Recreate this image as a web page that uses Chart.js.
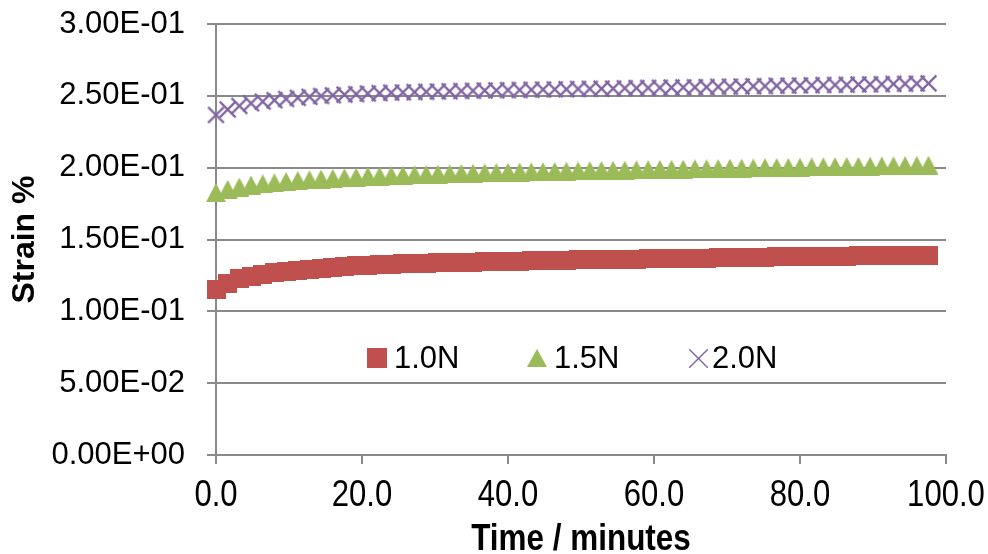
<!DOCTYPE html>
<html>
<head>
<meta charset="utf-8">
<script src="https://cdn.jsdelivr.net/npm/chart.js@4.4.1/dist/chart.umd.min.js"></script>
<style>
  html, body { margin: 0; padding: 0; background: #ffffff; }
  #wrap { width: 988px; height: 554px; position: relative; }
</style>
</head>
<body>
<div id="wrap"><canvas id="c" width="988" height="554"></canvas></div>
<script>
// Time of each reading (minutes)
const timeMin = [0.0, 1.6, 3.2, 4.8, 6.4, 8.0, 9.6, 11.2, 12.8, 14.4,
  16.0, 17.6, 19.2, 20.8, 22.4, 24.0, 25.6, 27.2, 28.8, 30.4,
  32.0, 33.6, 35.2, 36.8, 38.4, 40.0, 41.6, 43.2, 44.8, 46.4,
  48.0, 49.6, 51.2, 52.8, 54.4, 56.0, 57.6, 59.2, 60.8, 62.4,
  64.0, 65.6, 67.2, 68.8, 70.4, 72.0, 73.6, 75.2, 76.8, 78.4,
  80.0, 81.6, 83.2, 84.8, 86.4, 88.0, 89.6, 91.2, 92.8, 94.4,
  96.0, 97.6];

// Strain under 1.0 N load
const strain10N = [0.1155, 0.1196, 0.1226, 0.1245, 0.1259, 0.1268, 0.1277, 0.1287, 0.1294, 0.1298,
  0.1305, 0.1310, 0.1317, 0.1322, 0.1324, 0.1327, 0.1330, 0.1333, 0.1335, 0.1337,
  0.1339, 0.1341, 0.1343, 0.1345, 0.1347, 0.1348, 0.1350, 0.1352, 0.1353, 0.1355,
  0.1356, 0.1358, 0.1359, 0.1360, 0.1362, 0.1363, 0.1364, 0.1365, 0.1366, 0.1368,
  0.1369, 0.1370, 0.1371, 0.1372, 0.1373, 0.1374, 0.1376, 0.1378, 0.1380, 0.1381,
  0.1382, 0.1382, 0.1383, 0.1384, 0.1385, 0.1386, 0.1387, 0.1388, 0.1388, 0.1389,
  0.1390, 0.1391];

// Strain under 1.5 N load
const strain15N = [0.1826, 0.1849, 0.1865, 0.1879, 0.1888, 0.1895, 0.1904, 0.1911, 0.1916, 0.1921,
  0.1925, 0.1930, 0.1934, 0.1939, 0.1941, 0.1944, 0.1947, 0.1950, 0.1952, 0.1955,
  0.1957, 0.1959, 0.1961, 0.1963, 0.1965, 0.1967, 0.1969, 0.1971, 0.1972, 0.1974,
  0.1976, 0.1977, 0.1979, 0.1980, 0.1982, 0.1983, 0.1985, 0.1986, 0.1988, 0.1989,
  0.1990, 0.1992, 0.1993, 0.1994, 0.1996, 0.1997, 0.1998, 0.2000, 0.2001, 0.2002,
  0.2003, 0.2005, 0.2006, 0.2007, 0.2008, 0.2009, 0.2010, 0.2012, 0.2013, 0.2014,
  0.2015, 0.2017];

// Strain under 2.0 N load
const strain20N = [0.2367, 0.2405, 0.2430, 0.2448, 0.2460, 0.2470, 0.2478, 0.2486, 0.2493, 0.2499,
  0.2504, 0.2508, 0.2512, 0.2516, 0.2519, 0.2522, 0.2524, 0.2526, 0.2528, 0.2530,
  0.2532, 0.2534, 0.2535, 0.2537, 0.2538, 0.2540, 0.2541, 0.2542, 0.2544, 0.2545,
  0.2546, 0.2548, 0.2549, 0.2550, 0.2551, 0.2553, 0.2554, 0.2555, 0.2556, 0.2558,
  0.2559, 0.2560, 0.2561, 0.2563, 0.2564, 0.2565, 0.2567, 0.2568, 0.2570, 0.2571,
  0.2572, 0.2574, 0.2575, 0.2576, 0.2577, 0.2579, 0.2580, 0.2581, 0.2583, 0.2584,
  0.2585, 0.2587];

const seriesNames = ['1.0N', '1.5N', '2.0N'];
const yTicks = [0, 0.05, 0.10, 0.15, 0.20, 0.25, 0.30];
const xTicks = [0, 20, 40, 60, 80, 100];
const xTitle = 'Time / minutes';
const yTitle = 'Strain %';

const COLORS = { red: '#C0504D', green: '#9BBB59', purple: '#8064A2' };
const GRID = '#8a8a8a';
const SANS = '"Liberation Sans", Arial, sans-serif';

// Marker sprites, centred on their bounding box
function makeSquare(size, color) {
  const c = document.createElement('canvas');
  c.width = size; c.height = size;
  const g = c.getContext('2d');
  g.fillStyle = color;
  g.fillRect(0, 0, size, size);
  return c;
}
function makeTriangle(w, h, color) {
  const c = document.createElement('canvas');
  c.width = w; c.height = h;
  const g = c.getContext('2d');
  g.fillStyle = color;
  g.beginPath();
  g.moveTo(w / 2, 0);
  g.lineTo(w, h);
  g.lineTo(0, h);
  g.closePath();
  g.fill();
  return c;
}
function makeCross(size, color, lw) {
  const c = document.createElement('canvas');
  c.width = size; c.height = size;
  const g = c.getContext('2d');
  g.strokeStyle = color;
  g.lineWidth = lw;
  const p = lw / 2 + 0.5;
  g.beginPath();
  g.moveTo(p, p); g.lineTo(size - p, size - p);
  g.moveTo(size - p, p); g.lineTo(p, size - p);
  g.stroke();
  return c;
}

const markers = [
  makeSquare(19, COLORS.red),
  makeTriangle(20, 19, COLORS.green),
  makeCross(19, COLORS.purple, 2.2)
];
const legendMarkers = [
  makeSquare(20, COLORS.red),
  makeTriangle(20, 18, COLORS.green),
  makeCross(21, COLORS.purple, 1.4)
];

function toPoints(xs, ys) {
  return xs.map((x, i) => ({ x: x, y: ys[i] }));
}

function sciLabel(v) {
  if (Math.abs(v) < 1e-12) return '0.00E+00';
  const parts = v.toExponential(2).split('e');
  const exp = parseInt(parts[1], 10);
  const sign = exp < 0 ? '-' : '+';
  const digits = String(Math.abs(exp)).padStart(2, '0');
  return parts[0] + 'E' + sign + digits;
}

// Narrow-set horizontal axis labels and title, placed from the x scale
const narrowXAxisText = {
  id: 'narrowXAxisText',
  afterDraw(chart) {
    const ctx = chart.ctx;
    const xs = chart.scales.x;
    const area = chart.chartArea;
    ctx.save();
    ctx.fillStyle = '#000000';
    ctx.textAlign = 'center';
    ctx.textBaseline = 'middle';
    ctx.font = '37px ' + SANS;
    xTicks.forEach(v => {
      const px = xs.getPixelForValue(v);
      ctx.save();
      ctx.translate(px, 496);
      ctx.scale(0.84, 1);
      ctx.fillText(v.toFixed(1), 0, 0);
      ctx.restore();
    });
    ctx.font = 'bold 37px ' + SANS;
    ctx.save();
    ctx.translate((area.left + area.right) / 2, 540);
    ctx.scale(0.85, 1);
    ctx.fillText(xTitle, 0, 0);
    ctx.restore();
    ctx.restore();
  }
};

// Legend drawn inside the plot area
const innerLegend = {
  id: 'innerLegend',
  afterDatasetsDraw(chart) {
    const ctx = chart.ctx;
    const items = [
      { mx: 377, tx: 394 },
      { mx: 537, tx: 554 },
      { mx: 698, tx: 712 }
    ];
    const cy = 358;
    ctx.save();
    ctx.font = '31px ' + SANS;
    ctx.fillStyle = '#000000';
    ctx.textBaseline = 'middle';
    ctx.textAlign = 'left';
    chart.data.datasets.forEach((ds, i) => {
      const m = legendMarkers[i];
      ctx.drawImage(m, Math.round(items[i].mx - m.width / 2), Math.round(cy - m.height / 2));
      ctx.fillText(ds.label, items[i].tx, cy + 1);
    });
    ctx.restore();
  }
};

const datasets = [strain10N, strain15N, strain20N].map((ys, i) => ({
  label: seriesNames[i],
  data: toPoints(timeMin, ys),
  showLine: false,
  pointStyle: markers[i],
  pointRadius: 10,
  clip: false
}));

new Chart(document.getElementById('c'), {
  type: 'scatter',
  data: { datasets: datasets },
  options: {
    responsive: false,
    animation: false,
    events: [],
    layout: { padding: { top: 24, right: 42, left: 0, bottom: 0 } },
    plugins: {
      legend: { display: false },
      tooltip: { enabled: false }
    },
    scales: {
      x: {
        type: 'linear',
        min: 0,
        max: 100,
        afterBuildTicks(scale) { scale.ticks = xTicks.map(v => ({ value: v })); },
        afterFit(scale) {
          scale.height = 99;
          scale.paddingLeft = 0;
          scale.paddingRight = 0;
        },
        ticks: { display: false },
        grid: {
          drawOnChartArea: false,
          drawTicks: true,
          tickLength: 9,
          color: GRID,
          lineWidth: 2
        },
        border: { color: GRID, width: 2 },
        title: { display: false }
      },
      y: {
        type: 'linear',
        min: 0,
        max: 0.3,
        afterBuildTicks(scale) { scale.ticks = yTicks.map(v => ({ value: v })); },
        afterFit(scale) {
          scale.width = 216;
          scale.paddingTop = 0;
          scale.paddingBottom = 0;
        },
        ticks: {
          callback: v => sciLabel(v),
          color: '#000000',
          font: { family: SANS, size: 31 },
          padding: 22
        },
        grid: {
          drawOnChartArea: true,
          drawTicks: true,
          tickLength: 9,
          color: GRID,
          lineWidth: 2
        },
        border: { color: GRID, width: 2 },
        title: {
          display: true,
          text: yTitle,
          color: '#000000',
          font: { family: SANS, size: 32, weight: 'bold', lineHeight: 1 },
          padding: { top: 9, bottom: 0 }
        }
      }
    }
  },
  plugins: [innerLegend, narrowXAxisText]
});
</script>
</body>
</html>
